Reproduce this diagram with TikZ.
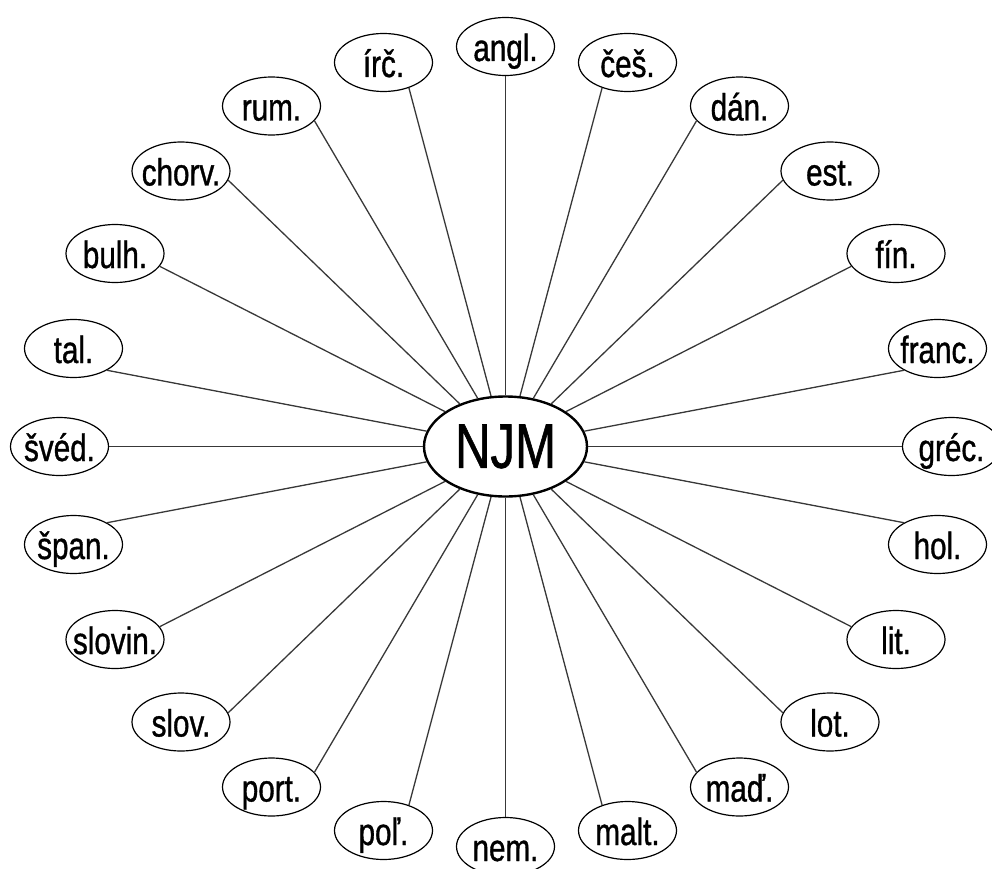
\documentclass[tikz,border=0pt]{standalone}
\usepackage{fontspec}
\setmainfont[FakeStretch=0.78,FakeBold=0.9]{Liberation Sans}
\usetikzlibrary{shapes.geometric}
\newcommand\mylab[1]{\makebox[0pt]{#1}}
\begin{document}
\begin{tikzpicture}[x=1pt,y=-1pt,
  lang/.style={ellipse, draw, line width=1.2pt, minimum width=98pt, minimum height=58pt,
    inner sep=0pt, text height=29pt, text depth=0pt, font=\fontsize{38}{40}\selectfont},
  hub/.style={ellipse, draw, line width=2.4pt, minimum width=163pt, minimum height=100pt,
    inner sep=0pt, font=\fontsize{63}{66}\selectfont},
  link/.style={draw=black!78, line width=1.3pt}]
\useasboundingbox (0,0) rectangle (992,869);
\node[hub] (njm) at (505.5,446.5) {NJM};
% upper half
\node[lang] (angl)  at (505.5,46.5) {\mylab{angl.}};
\node[lang] (irc)   at (383.5,62.5) {\mylab{írč.}};
\node[lang] (ces)   at (627.5,62.5) {\mylab{češ.}};
\node[lang] (rum)   at (271.5,106) {\mylab{rum.}};
\node[lang] (dan)   at (739.5,106) {\mylab{dán.}};
\node[lang] (chorv) at (181,171) {\mylab{chorv.}};
\node[lang] (est)   at (830,171) {\mylab{est.}};
\node[lang] (bulh)  at (115,253.5) {\mylab{bulh.}};
\node[lang] (fin)   at (896,253.5) {\mylab{fín.}};
\node[lang] (tal)   at (73.5,348.5) {\mylab{tal.}};
\node[lang] (franc) at (937.5,348.5) {\mylab{franc.}};
\node[lang] (sved)  at (59.5,446.5) {\mylab{švéd.}};
\node[lang] (grec)  at (951.5,446.5) {\mylab{gréc.}};
% lower half
\node[lang] (span)  at (73.5,544.5) {\mylab{špan.}};
\node[lang] (hol)   at (937.5,544.5) {\mylab{hol.}};
\node[lang] (slovin) at (115,639.5) {\mylab{slovin.}};
\node[lang] (lit)   at (896,639.5) {\mylab{lit.}};
\node[lang] (slov)  at (181,722) {\mylab{slov.}};
\node[lang] (lot)   at (830,722) {\mylab{lot.}};
\node[lang] (port)  at (271.5,787) {\mylab{port.}};
\node[lang] (mad)   at (739.5,787) {\mylab{maď.}};
\node[lang] (pol)   at (383.5,830.5) {\mylab{poľ.}};
\node[lang] (malt)  at (627.5,830.5) {\mylab{malt.}};
\node[lang] (nem)   at (505.5,846.5) {\mylab{nem.}};
% connectors
\draw[link] (njm.90) -- (angl.-90);
\draw[link] (njm.106) -- (irc.-45);
\draw[link] (njm.120) -- (rum.-19);
\draw[link] (njm.137) -- (chorv.-11);
\draw[link] (njm.150) -- (bulh.-16);
\draw[link] (njm.169) -- (tal.-33);
\draw[link] (njm.180) -- (sved.0);
\draw[link] (njm.74) -- (ces.-135);
\draw[link] (njm.60) -- (dan.-161);
\draw[link] (njm.43) -- (est.-169);
\draw[link] (njm.30) -- (fin.-164);
\draw[link] (njm.11) -- (franc.-147);
\draw[link] (njm.0) -- (grec.180);
\draw[link] (njm.-169) -- (span.33);
\draw[link] (njm.-150) -- (slovin.16);
\draw[link] (njm.-137) -- (slov.11);
\draw[link] (njm.-120) -- (port.19);
\draw[link] (njm.-106) -- (pol.45);
\draw[link] (njm.-90) -- (nem.90);
\draw[link] (njm.-11) -- (hol.147);
\draw[link] (njm.-30) -- (lit.164);
\draw[link] (njm.-43) -- (lot.169);
\draw[link] (njm.-60) -- (mad.161);
\draw[link] (njm.-74) -- (malt.135);
\end{tikzpicture}
\end{document}
